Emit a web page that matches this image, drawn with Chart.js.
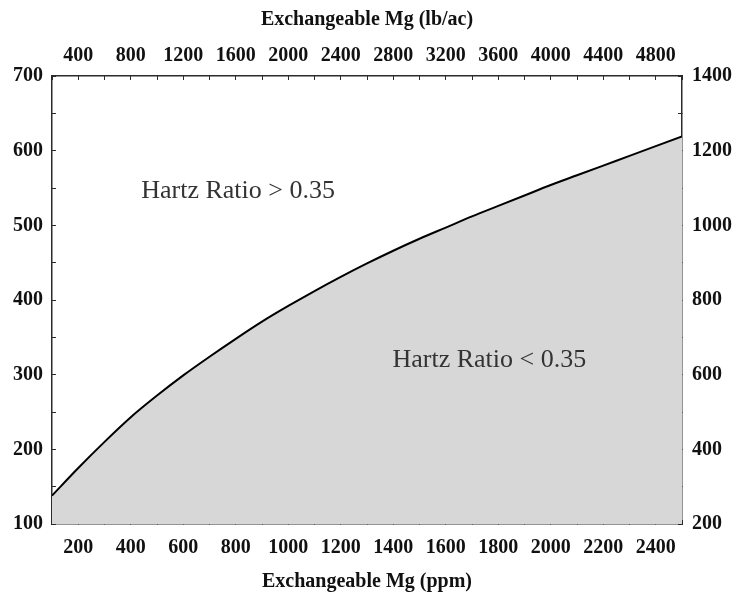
<!DOCTYPE html>
<html>
<head>
<meta charset="utf-8">
<script src="https://cdn.jsdelivr.net/npm/chart.js@4.4.1/dist/chart.umd.min.js"></script>
<style>
  html, body { margin: 0; padding: 0; background: #fff; }
  #wrap { width: 743px; height: 594px; }
</style>
</head>
<body>
<div id="wrap"><canvas id="chart" width="743" height="594"></canvas></div>
<script>
// Mg (ppm) along the bottom axis, K (ppm) where Hartz ratio = 0.35
const mgPpm = [100, 200, 300, 400, 500, 600, 700, 800, 900, 1000, 1100, 1200, 1300,
               1400, 1500, 1600, 1700, 1800, 1900, 2000, 2100, 2200, 2300, 2400, 2500];
const kPpm = [138, 175, 210, 243, 272, 299, 324, 348, 371, 392, 412, 431, 449,
              466, 482, 497, 512, 526, 540, 554, 567, 580, 593, 606, 619];

const regionLabels = ['Hartz Ratio > 0.35', 'Hartz Ratio < 0.35'];
const regionLabelX = [440, 1397];   // ppm
const regionLabelY = [536, 310];    // ppm

const axisColor = '#2b2b2b';
const tickFont = { family: 'Liberation Serif', size: 20, weight: 'bold' };

// draws the two region texts at data coordinates
const regionTextPlugin = {
    id: 'regionText',
    afterDatasetsDraw(chart) {
        const ctx = chart.ctx;
        const xs = chart.scales.x, ys = chart.scales.y;
        ctx.save();
        ctx.font = '26px "Liberation Serif"';
        ctx.fillStyle = '#333';
        ctx.textAlign = 'left';
        ctx.textBaseline = 'alphabetic';
        regionLabels.forEach(function (txt, i) {
            ctx.fillText(txt, xs.getPixelForValue(regionLabelX[i]), ys.getPixelForValue(regionLabelY[i]));
        });
        ctx.restore();
    }
};

function gridOpts() {
    return {
        drawOnChartArea: false,
        drawTicks: true,
        tickLength: -4,
        tickColor: axisColor,
        lineWidth: 1
    };
}

function borderOpts() {
    return { display: true, color: axisColor, width: 1.5 };
}

const ctx = document.getElementById('chart').getContext('2d');
new Chart(ctx, {
    type: 'line',
    data: {
        datasets: [{
            data: mgPpm.map((m, i) => ({ x: m, y: kPpm[i] })),
            borderColor: '#000',
            borderWidth: 2,
            backgroundColor: '#d7d7d7',
            fill: 'start',
            pointRadius: 0,
            cubicInterpolationMode: 'monotone',
            xAxisID: 'x',
            yAxisID: 'y'
        }]
    },
    options: {
        responsive: false,
        animation: false,
        layout: { padding: 0 },
        plugins: {
            legend: { display: false },
            tooltip: { enabled: false }
        },
        scales: {
            x: {
                type: 'linear',
                position: 'bottom',
                min: 100, max: 2500,
                grid: gridOpts(),
                border: borderOpts(),
                ticks: {
                    stepSize: 100, autoSkip: false, maxRotation: 0,
                    padding: 16, color: '#111', font: tickFont,
                    callback: v => (v % 200 === 0 ? String(v) : '')
                },
                title: {
                    display: true, text: 'Exchangeable Mg (ppm)', color: '#111',
                    font: tickFont, padding: { top: 0, bottom: 0 }
                },
                afterFit: s => { s.height = 70; }
            },
            x2: {
                type: 'linear',
                position: 'top',
                min: 200, max: 5000,
                grid: gridOpts(),
                border: borderOpts(),
                ticks: {
                    stepSize: 200, autoSkip: false, maxRotation: 0,
                    padding: 12, color: '#111', font: tickFont,
                    callback: v => (v % 400 === 0 ? String(v) : '')
                },
                title: {
                    display: true, text: 'Exchangeable Mg (lb/ac)', color: '#111',
                    font: tickFont, padding: { top: 8, bottom: 0 }
                },
                afterFit: s => { s.height = 76; }
            },
            y: {
                type: 'linear',
                position: 'left',
                min: 100, max: 700,
                grid: gridOpts(),
                border: borderOpts(),
                ticks: {
                    stepSize: 50, autoSkip: false, padding: 13,
                    color: '#111', font: tickFont,
                    callback: v => (v % 100 === 0 ? String(v) : '')
                },
                afterFit: s => { s.width = 52; }
            },
            y2: {
                type: 'linear',
                position: 'right',
                min: 200, max: 1400,
                grid: gridOpts(),
                border: borderOpts(),
                ticks: {
                    stepSize: 100, autoSkip: false, padding: 14,
                    color: '#111', font: tickFont,
                    callback: v => (v % 200 === 0 ? String(v) : '')
                },
                afterFit: s => { s.width = 61; }
            }
        }
    },
    plugins: [regionTextPlugin]
});
</script>
</body>
</html>
